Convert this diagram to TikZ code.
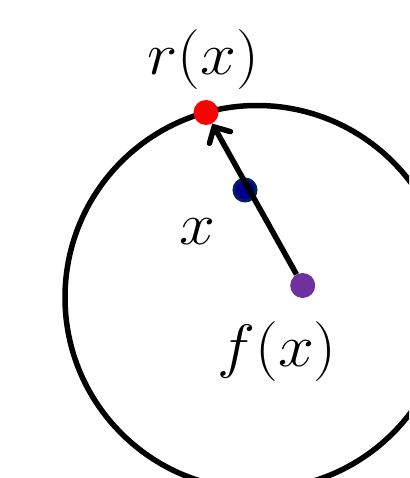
\documentclass[tikz,border=0pt]{standalone}
\usepackage{fix-cm}
\usetikzlibrary{arrows.meta}
\definecolor{navyout}{RGB}{0,32,96}
\definecolor{navyin}{RGB}{0,0,140}
\definecolor{purp}{RGB}{112,48,160}
\newcommand{\lblbox}[1]{\scalebox{1.13}[1.05]{#1}}
\begin{document}
\begin{tikzpicture}[x=1pt,y=-1pt,
  dot/.style={circle,inner sep=0pt,minimum size=25pt},
  lbl/.style={font=\fontsize{57}{64}\selectfont, inner sep=0pt}]
\useasboundingbox (0,0) rectangle (409,478);
\begin{scope}
\clip (0,0) rectangle (409,478);
\draw[line width=5.5pt] (257,297.5) circle[radius=192];
\end{scope}
\node[dot,fill=navyin,draw=navyout,line width=3pt,minimum size=22pt] (n) at (245,190) {};
\node[dot,fill=purp] (p) at (302.7,285.5) {};
\node[dot,fill=red] (r) at (206,112.5) {};
\draw[line width=5.5pt,-{Straight Barb[length=12pt,width=24pt,line cap=round]}] (p) -- (r);
\node[lbl] (rl) at (203,60) {\lblbox{$r(x)$}};
\node[lbl] (xl) at (197,232) {\lblbox{$x$}};
\node[lbl] (fl) at (277,352) {\lblbox{$f(x)$}};
\end{tikzpicture}
\end{document}
